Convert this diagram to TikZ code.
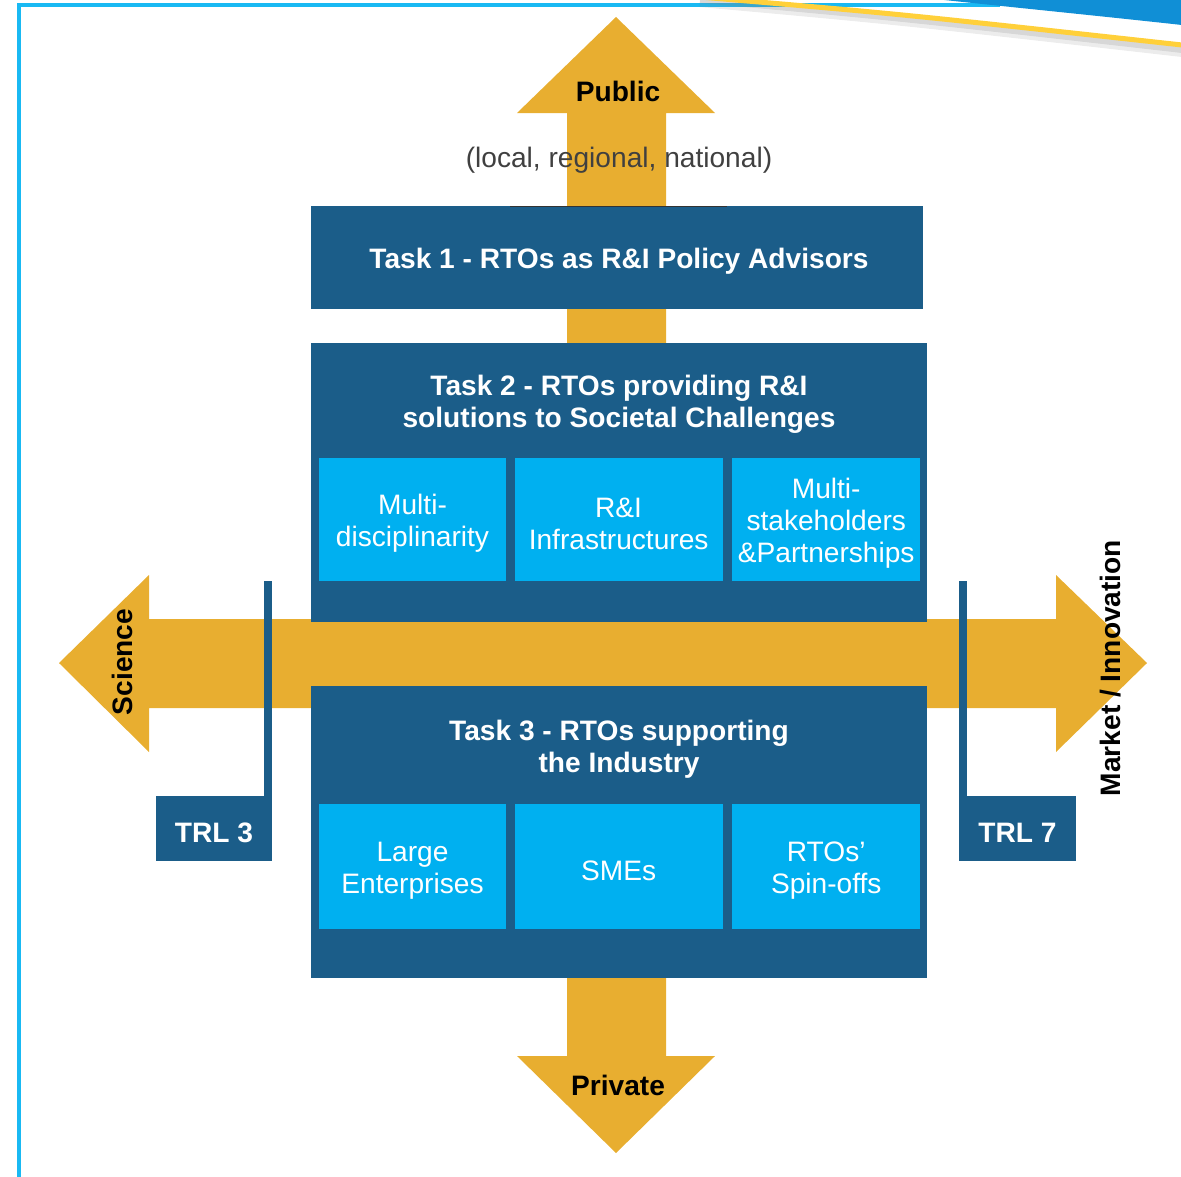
\documentclass[tikz,border=0pt]{standalone}
\usepackage{fontspec}
\setmainfont{Liberation Sans}
\usepackage{xcolor}
\usepackage{tikz}
\usetikzlibrary{positioning}
\definecolor{taskblue}{RGB}{27,93,137}
\definecolor{itemcyan}{RGB}{0,176,240}
\definecolor{arrowgold}{RGB}{232,174,48}
\definecolor{framecyan}{RGB}{25,185,243}
\definecolor{swooshblue}{RGB}{16,143,214}
\definecolor{swooshyellow}{RGB}{255,208,58}
\definecolor{notegray}{RGB}{64,64,64}
\newcommand{\boxstrut}{\rule{0pt}{20pt}}

\begin{document}
\begin{tikzpicture}[x=0.025cm, y=-0.025cm, node distance=0.2cm,
    task/.style={rectangle, fill=taskblue, inner sep=0pt},
    tasktitle/.style={text=white, align=center, inner sep=0pt, font=\bfseries\fontsize{20}{23}\selectfont},
    item/.style={rectangle, fill=itemcyan, text=white, align=center, inner sep=0pt, minimum height=3.075cm,
        font=\fontsize{20}{23}\selectfont},
    trlbox/.style={rectangle, fill=taskblue, text=white, minimum width=2.9cm, minimum height=1.625cm, inner sep=0pt,
        font=\bfseries\fontsize{20}{23}\selectfont},
    bigarrow/.style={fill=arrowgold},
    axislabel/.style={inner sep=0pt, font=\bfseries\fontsize{20}{23}\selectfont}]

    \useasboundingbox (0,0) rectangle (1181,1176);

    % frame and corner swoosh
    \draw[framecyan, line width=0.1cm] (19,1180) -- (19,5) -- (1000,5);
    \draw[gray, opacity=0.15, line width=0.25cm] (700,2) .. controls (900,20) .. (1182,52);
    \draw[gray, opacity=0.2, line width=0.15cm] (700,0) .. controls (900,18) .. (1182,50);
    \fill[swooshblue] (935,-1) -- (1182,-1) -- (1182,25) .. controls (1100,16) and (1000,6) .. (935,-1);
    \draw[swooshyellow, line width=0.125cm] (700,-3) .. controls (900,14) .. (1182,45);

    % gold axes
    \fill[bigarrow] (616,17) -- (715,113) -- (666,113) -- (666,1056) -- (715,1056) -- (616,1153)
        -- (517,1056) -- (567,1056) -- (567,113) -- (517,113) -- cycle;
    \fill[bigarrow] (59,663) -- (149,575) -- (149,619) -- (1056,619) -- (1056,575) -- (1147,663)
        -- (1056,752) -- (1056,708) -- (149,708) -- (149,752) -- cycle;

    \node[axislabel] (public) at (618,91) {Public};
    \node[inner sep=0pt, text=notegray, font=\fontsize{20}{23}\selectfont] (levels) at (619,160) {(local, regional, national)};
    \node[axislabel] (private) at (618,1085) {Private};
    \node[axislabel, rotate=90] (science) at (122,662) {Science};
    \node[axislabel, rotate=90] (market) at (1111,668) {Market / Innovation};

    % tasks
    \node[task, minimum width=15.3cm, minimum height=2.575cm] (task1) at (617,257.5) {};
    \node[tasktitle] (task1title) at (619,261) {Task 1 - RTOs as R\&I Policy Advisors};
    \draw[black!80, line width=0.6pt] (510,206) -- (727,206);

    \node[task, minimum width=15.4cm, minimum height=6.975cm] (task2) at (619,482.5) {};
    \node[tasktitle] (task2title) at (619,404) {Task 2 - RTOs providing R\&I\\solutions to Societal Challenges};
    \node[item, minimum width=4.675cm] (multi) at (412.5,519.5) {\boxstrut Multi-\\disciplinarity};
    \node[item, minimum width=5.2cm, right=0.2cm of multi] (infra) {\boxstrut R\&I\\Infrastructures};
    \node[item, minimum width=4.7cm, right=0.225cm of infra] (partner) {\boxstrut Multi-\\stakeholders\\\&Partnerships};

    \node[task, minimum width=15.4cm, minimum height=7.3cm] (task3) at (619,832) {};
    \node[tasktitle] (task3title) at (619,749) {Task 3 - RTOs supporting\\the Industry};
    \node[item, minimum width=4.675cm, minimum height=3.125cm] (large) at (412.5,866.5) {\boxstrut Large\\Enterprises};
    \node[item, minimum width=5.2cm, minimum height=3.125cm, right=0.2cm of large] (smes) {\boxstrut SMEs};
    \node[item, minimum width=4.7cm, minimum height=3.125cm, right=0.225cm of smes] (spinoff) {\boxstrut RTOs’\\Spin-offs};

    % readiness levels
    \node[trlbox] (trl3) at (214,828.5) {\boxstrut TRL 3};
    \fill[taskblue] (trl3.north east) rectangle ++(-8,-215);
    \node[trlbox, minimum width=2.925cm] (trl7) at (1017.5,828.5) {\boxstrut TRL 7};
    \fill[taskblue] (trl7.north west) rectangle ++(8,-215);
\end{tikzpicture}
\end{document}
